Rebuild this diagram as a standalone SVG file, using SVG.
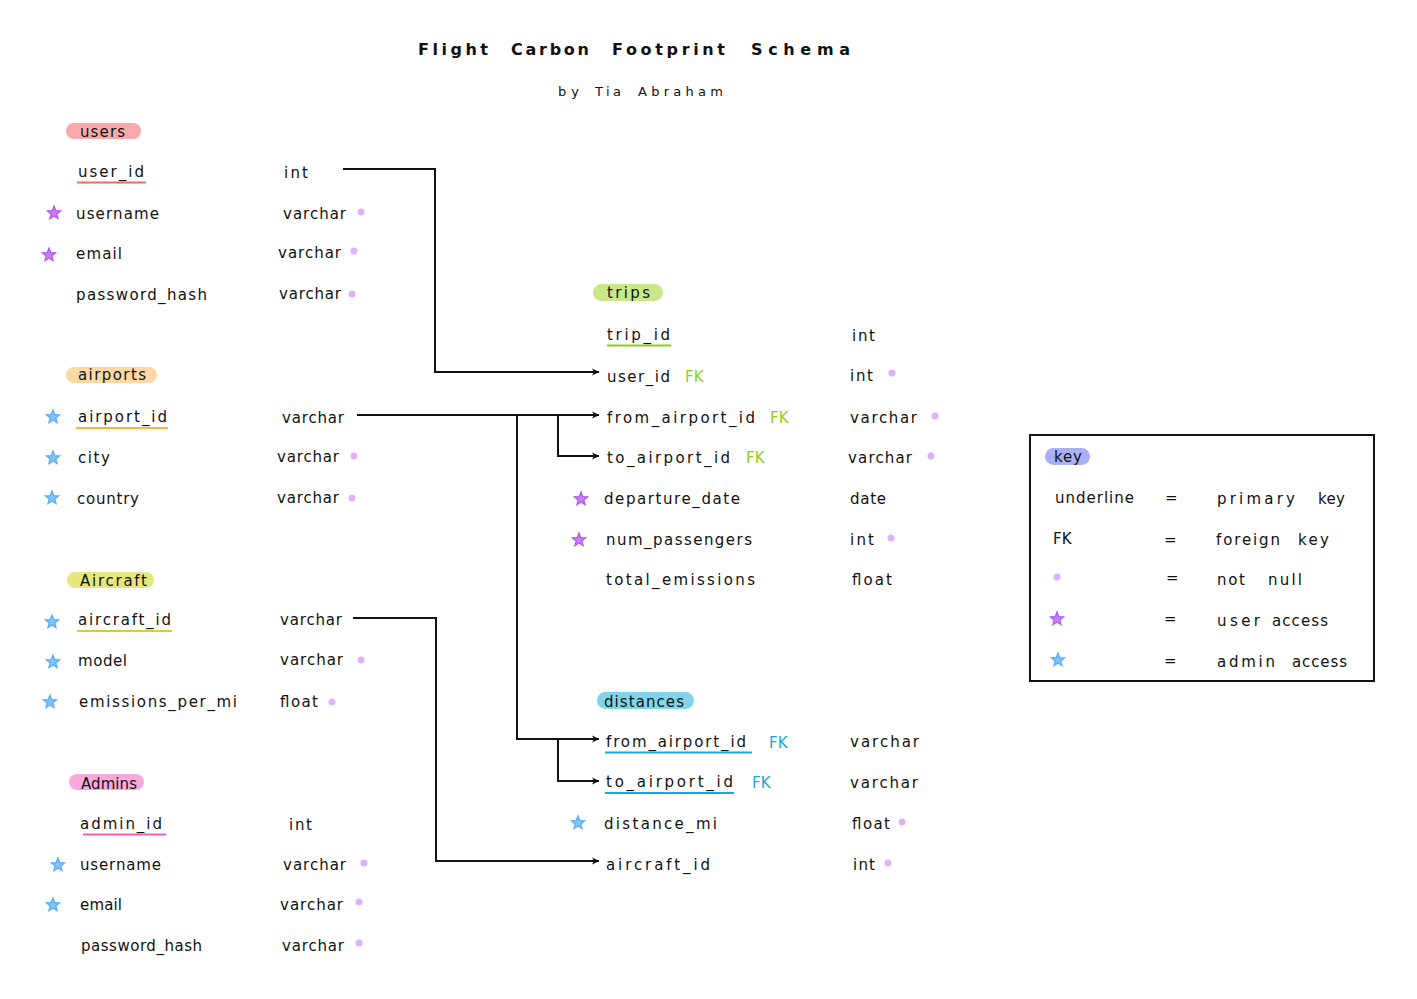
<svg xmlns="http://www.w3.org/2000/svg" xmlns:xlink="http://www.w3.org/1999/xlink" width="1417" height="999" viewBox="0 0 1417 999">
<style>
text{font-family:"DejaVu Sans","Liberation Sans",sans-serif;font-size:15px;fill:#111;}
.t{font-size:16px;font-weight:bold;}
.sub{font-size:13px;}
.fkg{fill:#8fd11a;}
.fkb{fill:#1ba8dc;}
.conn{fill:none;stroke:#111;stroke-width:2;}
.dot{fill:#ddb2f9;}
.ul{stroke-width:2;}
</style>
<defs>
<marker id="arr" markerUnits="userSpaceOnUse" markerWidth="9" markerHeight="9" refX="7" refY="4" orient="auto">
<path d="M0,0.5 L7.5,4 L0,7.5 L2,4 z" fill="#111"/>
</marker>
<path id="star" d="M0,-7 L1.76,-2.43 L6.66,-2.16 L2.85,0.93 L4.11,5.66 L0,3 L-4.11,5.66 L-2.85,0.93 L-6.66,-2.16 L-1.76,-2.43 Z"/>
<use id="sp" href="#star" fill="#b256f2" stroke="#b256f2" stroke-width="1.2" fill-opacity="0.75"/>
<use id="sb" href="#star" fill="#58aef6" stroke="#58aef6" stroke-width="1.2" fill-opacity="0.75"/>
</defs>
<rect width="1417" height="999" fill="#fff"/>

<g id="title">
<text class="t" y="55"><tspan x="418" textLength="70" lengthAdjust="spacing">Flight</tspan> <tspan x="511" textLength="78" lengthAdjust="spacing">Carbon</tspan> <tspan x="612" textLength="113" lengthAdjust="spacing">Footprint</tspan> <tspan x="751" textLength="99" lengthAdjust="spacing">Schema</tspan></text>
<text class="sub" y="96"><tspan x="558" textLength="21" lengthAdjust="spacing">by</tspan> <tspan x="595" textLength="26" lengthAdjust="spacing">Tia</tspan> <tspan x="638" textLength="85" lengthAdjust="spacing">Abraham</tspan></text>
</g>

<g id="connectors">
<path class="conn" d="M343,169 H435 V372 H599" marker-end="url(#arr)"/>
<path class="conn" d="M357,415 H599" marker-end="url(#arr)"/>
<path class="conn" d="M558,415 V456 H599" marker-end="url(#arr)"/>
<path class="conn" d="M517,415 V739 H599" marker-end="url(#arr)"/>
<path class="conn" d="M558,739 V781 H599" marker-end="url(#arr)"/>
<path class="conn" d="M353,618 H436 V861 H599" marker-end="url(#arr)"/>
</g>

<g id="users">
<rect x="66" y="123" width="75" height="16" rx="8" fill="#f9a9a9"/>
<text x="80" y="137" textLength="45" lengthAdjust="spacing">users</text>
<text x="78" y="177" textLength="66" lengthAdjust="spacing">user_id</text>
<line class="ul" x1="77" y1="182.5" x2="146" y2="182.5" stroke="#f46a6a"/>
<text x="284" y="178" textLength="24" lengthAdjust="spacing">int</text>
<use href="#sp" x="54" y="213"/>
<text x="76" y="219" textLength="83" lengthAdjust="spacing">username</text>
<text x="283" y="219" textLength="63" lengthAdjust="spacing">varchar</text>
<circle class="dot" cx="361" cy="212" r="3.5"/>
<use href="#sp" x="49" y="255"/>
<text x="76" y="259" textLength="46" lengthAdjust="spacing">email</text>
<text x="278" y="258" textLength="63" lengthAdjust="spacing">varchar</text>
<circle class="dot" cx="354" cy="251" r="3.5"/>
<text x="76" y="300" textLength="131" lengthAdjust="spacing">password_hash</text>
<text x="279" y="299" textLength="62" lengthAdjust="spacing">varchar</text>
<circle class="dot" cx="352" cy="294" r="3.5"/>
</g>

<g id="airports">
<rect x="66" y="367" width="91" height="16" rx="8" fill="#fcd9a4"/>
<text x="78" y="380" textLength="68" lengthAdjust="spacing">airports</text>
<use href="#sb" x="53" y="417"/>
<text x="78" y="422" textLength="89" lengthAdjust="spacing">airport_id</text>
<line class="ul" x1="76" y1="428" x2="168" y2="428" stroke="#f9b448"/>
<text x="282" y="423" textLength="62" lengthAdjust="spacing">varchar</text>
<use href="#sb" x="53" y="458"/>
<text x="78" y="463" textLength="32" lengthAdjust="spacing">city</text>
<text x="277" y="462" textLength="62" lengthAdjust="spacing">varchar</text>
<circle class="dot" cx="354" cy="456" r="3.5"/>
<use href="#sb" x="52" y="498"/>
<text x="77" y="504" textLength="62" lengthAdjust="spacing">country</text>
<text x="277" y="503" textLength="62" lengthAdjust="spacing">varchar</text>
<circle class="dot" cx="352" cy="498" r="3.5"/>
</g>

<g id="aircraft">
<rect x="67" y="572" width="87" height="16" rx="8" fill="#e6e67e"/>
<text x="80" y="586" textLength="67" lengthAdjust="spacing">Aircraft</text>
<use href="#sb" x="52" y="622"/>
<text x="78" y="625" textLength="93" lengthAdjust="spacing">aircraft_id</text>
<line class="ul" x1="77" y1="631" x2="172" y2="631" stroke="#d2d422"/>
<text x="280" y="625" textLength="62" lengthAdjust="spacing">varchar</text>
<use href="#sb" x="53" y="662"/>
<text x="78" y="666" textLength="49" lengthAdjust="spacing">model</text>
<text x="280" y="665" textLength="63" lengthAdjust="spacing">varchar</text>
<circle class="dot" cx="361" cy="660" r="3.5"/>
<use href="#sb" x="50" y="702"/>
<text x="79" y="707" textLength="158" lengthAdjust="spacing">emissions_per_mi</text>
<text x="280" y="707" textLength="38" lengthAdjust="spacing">float</text>
<circle class="dot" cx="332" cy="702" r="3.5"/>
</g>

<g id="admins">
<rect x="69" y="774" width="75" height="16" rx="8" fill="#f9a9dc"/>
<text x="81" y="789" textLength="56" lengthAdjust="spacing">Admins</text>
<text x="80" y="829" textLength="82" lengthAdjust="spacing">admin_id</text>
<line class="ul" x1="83" y1="834.5" x2="166" y2="834.5" stroke="#f45cbb"/>
<text x="289" y="830" textLength="23" lengthAdjust="spacing">int</text>
<use href="#sb" x="58" y="865"/>
<text x="80" y="870" textLength="81" lengthAdjust="spacing">username</text>
<text x="283" y="870" textLength="63" lengthAdjust="spacing">varchar</text>
<circle class="dot" cx="364" cy="863" r="3.5"/>
<use href="#sb" x="53" y="905"/>
<text x="80" y="910" textLength="42" lengthAdjust="spacing">email</text>
<text x="280" y="910" textLength="63" lengthAdjust="spacing">varchar</text>
<circle class="dot" cx="359" cy="902" r="3.5"/>
<text x="81" y="951" textLength="121" lengthAdjust="spacing">password_hash</text>
<text x="282" y="951" textLength="62" lengthAdjust="spacing">varchar</text>
<circle class="dot" cx="359" cy="943" r="3.5"/>
</g>

<g id="trips">
<rect x="593" y="284" width="70" height="17" rx="8.5" fill="#c8e88a"/>
<text x="607" y="298" textLength="43" lengthAdjust="spacing">trips</text>
<text x="607" y="340" textLength="63" lengthAdjust="spacing">trip_id</text>
<line class="ul" x1="607" y1="345.5" x2="671" y2="345.5" stroke="#8ccc1e"/>
<text x="852" y="341" textLength="23" lengthAdjust="spacing">int</text>
<text x="607" y="382" textLength="63" lengthAdjust="spacing">user_id</text>
<text class="fkg" x="685" y="382">FK</text>
<text x="850" y="381" textLength="23" lengthAdjust="spacing">int</text>
<circle class="dot" cx="892" cy="373" r="3.5"/>
<text x="607" y="423" textLength="148" lengthAdjust="spacing">from_airport_id</text>
<text class="fkg" x="770" y="423">FK</text>
<text x="850" y="423" textLength="67" lengthAdjust="spacing">varchar</text>
<circle class="dot" cx="935" cy="416" r="3.5"/>
<text x="607" y="463" textLength="123" lengthAdjust="spacing">to_airport_id</text>
<text class="fkg" x="746" y="463">FK</text>
<text x="848" y="463" textLength="64" lengthAdjust="spacing">varchar</text>
<circle class="dot" cx="931" cy="456" r="3.5"/>
<use href="#sp" x="581" y="499"/>
<text x="604" y="504" textLength="136" lengthAdjust="spacing">departure_date</text>
<text x="850" y="504" textLength="36" lengthAdjust="spacing">date</text>
<use href="#sp" x="579" y="540"/>
<text x="606" y="545" textLength="146" lengthAdjust="spacing">num_passengers</text>
<text x="850" y="545" textLength="24" lengthAdjust="spacing">int</text>
<circle class="dot" cx="891" cy="538" r="3.5"/>
<text x="606" y="585" textLength="149" lengthAdjust="spacing">total_emissions</text>
<text x="852" y="585" textLength="40" lengthAdjust="spacing">float</text>
</g>

<g id="distances">
<rect x="597" y="692" width="97" height="17" rx="8.5" fill="#80d3e8"/>
<text x="604" y="707" textLength="80" lengthAdjust="spacing">distances</text>
<text x="606" y="747" textLength="140" lengthAdjust="spacing">from_airport_id</text>
<line class="ul" x1="605" y1="752.5" x2="752" y2="752.5" stroke="#1ba8dc"/>
<text class="fkb" x="769" y="748">FK</text>
<text x="850" y="747" textLength="69" lengthAdjust="spacing">varchar</text>
<text x="606" y="787" textLength="127" lengthAdjust="spacing">to_airport_id</text>
<line class="ul" x1="605" y1="793" x2="734" y2="793" stroke="#1ba8dc"/>
<text class="fkb" x="752" y="788">FK</text>
<text x="850" y="788" textLength="68" lengthAdjust="spacing">varchar</text>
<use href="#sb" x="578" y="823"/>
<text x="604" y="829" textLength="113" lengthAdjust="spacing">distance_mi</text>
<text x="852" y="829" textLength="38" lengthAdjust="spacing">float</text>
<circle class="dot" cx="902" cy="822" r="3.5"/>
<text x="606" y="870" textLength="104" lengthAdjust="spacing">aircraft_id</text>
<text x="853" y="870" textLength="22" lengthAdjust="spacing">int</text>
<circle class="dot" cx="888" cy="863" r="3.5"/>
</g>

<g id="key">
<rect x="1030" y="435" width="344" height="246" fill="none" stroke="#111" stroke-width="2"/>
<rect x="1045" y="448" width="45" height="17" rx="8.5" fill="#a9b0f3"/>
<text x="1054" y="462" textLength="28" lengthAdjust="spacing">key</text>
<text x="1055" y="503" textLength="79" lengthAdjust="spacing">underline</text>
<text x="1165" y="503">=</text>
<text y="504"><tspan x="1217" textLength="78" lengthAdjust="spacing">primary</tspan> <tspan x="1318" textLength="27" lengthAdjust="spacing">key</tspan></text>
<text x="1053" y="544">FK</text>
<text x="1164" y="545">=</text>
<text y="545"><tspan x="1216" textLength="64" lengthAdjust="spacing">foreign</tspan> <tspan x="1298" textLength="31" lengthAdjust="spacing">key</tspan></text>
<circle class="dot" cx="1057" cy="577" r="3.5"/>
<text x="1166" y="583">=</text>
<text y="585"><tspan x="1217" textLength="28" lengthAdjust="spacing">not</tspan> <tspan x="1268" textLength="34" lengthAdjust="spacing">null</tspan></text>
<use href="#sp" x="1057" y="619"/>
<text x="1164" y="624">=</text>
<text y="626"><tspan x="1217" textLength="43" lengthAdjust="spacing">user</tspan> <tspan x="1272" textLength="56" lengthAdjust="spacing">access</tspan></text>
<use href="#sb" x="1058" y="660"/>
<text x="1164" y="666">=</text>
<text y="667"><tspan x="1217" textLength="58" lengthAdjust="spacing">admin</tspan> <tspan x="1292" textLength="55" lengthAdjust="spacing">access</tspan></text>
</g>
</svg>
